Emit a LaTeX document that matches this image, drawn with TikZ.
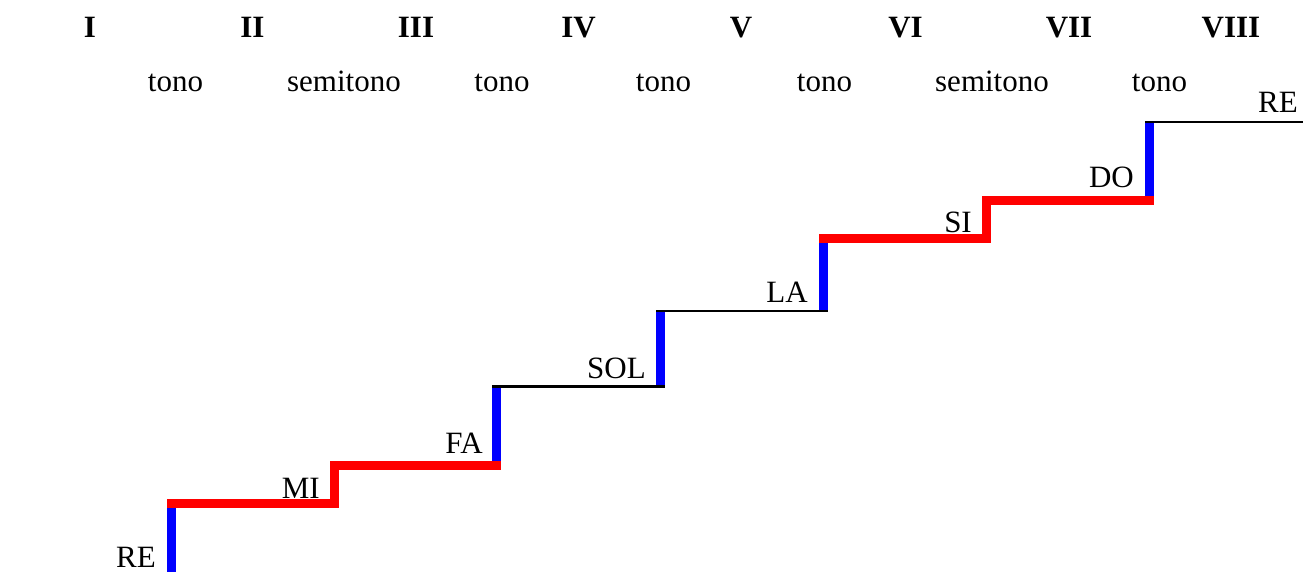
\documentclass[tikz,border=0pt]{standalone}
\usepackage{fontspec}
\setmainfont{Liberation Serif}
\begin{document}
\begin{tikzpicture}[x=1pt,y=-1pt,
  deg/.style={font=\fontsize{31}{36}\selectfont\bfseries, inner sep=0pt, anchor=base},
  interval/.style={font=\fontsize{31}{36}\selectfont, inner sep=0pt, anchor=base},
  note/.style={font=\fontsize{31}{36}\selectfont, inner sep=0pt, anchor=base east},
  riser/.style={draw=blue, line width=9pt},
  semi/.style={draw=red, line width=9pt, line join=miter},
  tread/.style={draw=black, line width=2.5pt}]
\useasboundingbox (0,0) rectangle (1303,572);
\clip (0,0) rectangle (1303,572);
% corners of the staircase
\coordinate (A0) at (171.5,590);
\coordinate (A1) at (171.5,503.5);
\coordinate (B0) at (334.5,503.5);
\coordinate (B1) at (334.5,465.5);
\coordinate (C0) at (496.5,465.5);
\coordinate (C1) at (496.5,386.7);
\coordinate (D0) at (660.5,386.7);
\coordinate (D1) at (660.5,311);
\coordinate (E0) at (823.5,311);
\coordinate (E1) at (823.5,238.5);
\coordinate (F0) at (986.5,238.5);
\coordinate (F1) at (986.5,200.5);
\coordinate (G0) at (1149.5,200.5);
\coordinate (G1) at (1149.5,122);
\coordinate (H) at (1310,122);
% risers (tones)
\draw[riser] (A0) -- (A1);
\draw[riser] (C0) -- (C1);
\draw[riser] (D0) -- (D1);
\draw[riser] (E0) -- (E1);
\draw[riser] (G0) -- (G1);
% treads
\draw[semi] ([xshift=-4.5pt]A1) -- (B0) -- (B1) -- ([xshift=4.5pt]C0);
\draw[tread] ([xshift=-4.5pt]C1) -- ([xshift=4.5pt]D0);
\draw[tread] ([xshift=-4.5pt]D1) -- ([xshift=4.5pt]E0);
\draw[semi] ([xshift=-4.5pt]E1) -- (F0) -- (F1) -- ([xshift=4.5pt]G0);
\draw[tread] ([xshift=-4.5pt]G1) -- (H);
% degrees
\node[deg] (d1) at (90,38) {I};
\node[deg] (d2) at (252.5,38) {II};
\node[deg] (d3) at (416,38) {III};
\node[deg] (d4) at (578.5,38) {IV};
\node[deg] (d5) at (741,38) {V};
\node[deg] (d6) at (905.5,38) {VI};
\node[deg] (d7) at (1069,38) {VII};
\node[deg] (d8) at (1231,38) {VIII};
% intervals
\node[interval] (i1) at (175.5,92) {tono};
\node[interval] (i2) at (344,92) {semitono};
\node[interval] (i3) at (502,92) {tono};
\node[interval] (i4) at (663.5,92) {tono};
\node[interval] (i5) at (824.5,92) {tono};
\node[interval] (i6) at (992,92) {semitono};
\node[interval] (i7) at (1159.5,92) {tono};
% notes
\node[note] (nRE) at (156,567) {RE};
\node[note] (nMI) at (320,498) {MI};
\node[note] (nFA) at (483,453) {FA};
\node[note] (nSOL) at (646,378) {SOL};
\node[note] (nLA) at (808,302) {LA};
\node[note] (nSI) at (972,232) {SI};
\node[note] (nDO) at (1134,188) {DO};
\node[note] (nRE2) at (1298,113) {RE};
\end{tikzpicture}
\end{document}
